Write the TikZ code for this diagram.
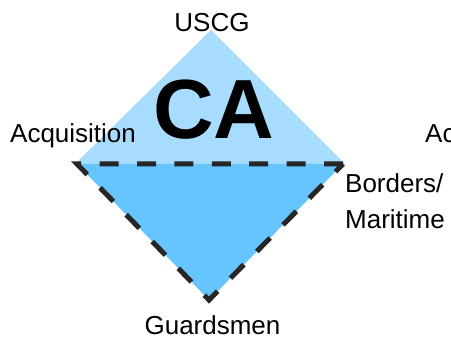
\documentclass[tikz,border=0pt]{standalone}
\usepackage{fontspec}
\setmainfont{Liberation Sans}
\definecolor{toplight}{RGB}{168,220,254}
\definecolor{botblue}{RGB}{102,196,255}
\definecolor{dashgray}{RGB}{38,38,38}
\begin{document}
\begin{tikzpicture}[x=1pt,y=-1pt,
  lbl/.style={inner sep=0pt, font=\fontsize{26}{31}\selectfont},
  bigtitle/.style={inner sep=0pt, font=\bfseries\fontsize{84}{84}\selectfont},
  dashedge/.style={draw=dashgray, line width=5pt, dash pattern=on 19pt off 18.4pt, miter limit=10}]
\useasboundingbox (0,0) rectangle (451,337);
\clip (0,0) rectangle (451,337);
\coordinate (T) at (211,30);
\coordinate (L) at (75,164);
\coordinate (R) at (345,164);
\coordinate (BL) at (77,164);
\coordinate (BR) at (343,164);
\coordinate (B) at (209,300);
\fill[toplight] (T) -- (L) -- (R) -- cycle;
\fill[botblue] (BL) -- (BR) -- (B) -- cycle;
\path[dashedge] (BR) -- (BL) -- (B) -- cycle;
\node[lbl, anchor=base] (uscg) at (212,32) {USCG};
\node[lbl, anchor=base west] (acq) at (10,143) {Acquisition};
\node[lbl, anchor=base west] (ac) at (425,143) {Ac};
\node[bigtitle, anchor=base] (ca) at (214,139) {CA};
\node[lbl, anchor=base west] (bord) at (345,193) {Borders/};
\node[lbl, anchor=base west] (mari) at (345,229) {Maritime};
\node[lbl, anchor=base] (guard) at (212.5,334.5) {Guardsmen};
\end{tikzpicture}
\end{document}
